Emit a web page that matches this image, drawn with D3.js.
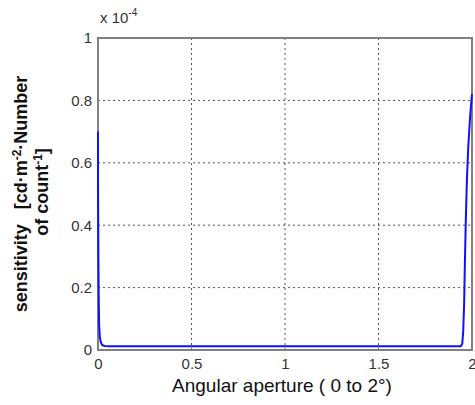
<!DOCTYPE html>
<html>
<head>
<meta charset="utf-8">
<script src="https://cdn.jsdelivr.net/npm/d3@7"></script>
<style>
  body { margin: 0; background: #fff; }
  svg { display: block; font-family: Arial, "Liberation Sans", sans-serif; }
</style>
</head>
<body>
<div id="chart"></div>
<script>
// sensitivity curve (units of 1e-4)
const aperture = [0, 0.0, 0.002, 0.004, 0.006, 0.01, 0.015, 0.022, 0.035, 0.06, 0.5, 1.0, 1.5, 1.94, 1.948, 1.953, 1.958, 1.962, 1.967, 1.973, 1.98, 1.99, 1.997, 2.0];
const sensitivity = [0.70, 0.55, 0.30, 0.16, 0.08, 0.04, 0.025, 0.016, 0.013, 0.012, 0.012, 0.012, 0.012, 0.012, 0.02, 0.06, 0.15, 0.28, 0.42, 0.55, 0.65, 0.75, 0.80, 0.82];
const xTicks = [0, 0.5, 1, 1.5, 2];
const yTicks = [0, 0.2, 0.4, 0.6, 0.8, 1];

const width = 475, height = 405;
const margin = { top: 38, right: 3, bottom: 55, left: 98 };
const innerW = width - margin.left - margin.right;
const innerH = height - margin.top - margin.bottom;

const svg = d3.select('#chart').append('svg')
  .attr('width', width)
  .attr('height', height);

const g = svg.append('g')
  .attr('transform', `translate(${margin.left},${margin.top})`);

const x = d3.scaleLinear().domain([0, 2]).range([0, innerW]);
const y = d3.scaleLinear().domain([0, 1]).range([innerH, 0]);

// dotted grid
g.append('g')
  .selectAll('line')
  .data(xTicks.slice(1, -1))
  .join('line')
  .attr('x1', d => x(d)).attr('x2', d => x(d))
  .attr('y1', 0).attr('y2', innerH)
  .attr('stroke', '#555')
  .attr('stroke-dasharray', '2,3');

g.append('g')
  .selectAll('line')
  .data(yTicks.slice(1, -1))
  .join('line')
  .attr('y1', d => y(d)).attr('y2', d => y(d))
  .attr('x1', 0).attr('x2', innerW)
  .attr('stroke', '#555')
  .attr('stroke-dasharray', '2,3');

// axes box
g.append('rect')
  .attr('width', innerW)
  .attr('height', innerH)
  .attr('fill', 'none')
  .attr('stroke', '#808080')
  .attr('stroke-width', 2);

// data line, drawn over the box so the edges stay visible
const line = d3.line()
  .x((d, i) => x(aperture[i]))
  .y(d => y(d));

g.append('path')
  .datum(sensitivity)
  .attr('fill', 'none')
  .attr('stroke', '#1010ff')
  .attr('stroke-width', 2)
  .attr('d', line);

const xAxis = g.append('g')
  .attr('transform', `translate(0,${innerH})`)
  .call(d3.axisBottom(x).tickValues(xTicks).tickSize(0).tickPadding(8).tickFormat(d3.format('')));
xAxis.select('.domain').remove();
xAxis.selectAll('text')
  .attr('fill', '#333')
  .attr('font-size', '15px');
// last label sits at the window edge, nudge it inside
xAxis.selectAll('text').filter(d => d === 2).attr('text-anchor', 'end').attr('dx', 4);

const yAxis = g.append('g')
  .call(d3.axisLeft(y).tickValues(yTicks).tickSize(0).tickPadding(6).tickFormat(d3.format('')));
yAxis.select('.domain').remove();
yAxis.selectAll('text')
  .attr('fill', '#333')
  .attr('font-size', '15px');

// exponent label
const expo = svg.append('text')
  .attr('x', margin.left + 2)
  .attr('y', 23)
  .attr('fill', '#333')
  .attr('font-size', '15px');
expo.append('tspan').text('x 10');
expo.append('tspan').attr('dy', -7).attr('font-size', '10px').text('-4');

// x label
svg.append('text')
  .attr('x', 282)
  .attr('y', 392)
  .attr('text-anchor', 'middle')
  .attr('fill', '#111')
  .attr('font-size', '19px')
  .text('Angular aperture ( 0 to 2°)');

// y label, two lines
const yl1 = svg.append('text')
  .attr('transform', 'translate(27,194) rotate(-90)')
  .attr('text-anchor', 'middle')
  .attr('font-weight', 'bold')
  .attr('font-size', '18px')
  .attr('fill', '#111');
yl1.append('tspan').text('sensitivity\u00a0\u00a0 [cd·m');
yl1.append('tspan').attr('dy', -6).attr('font-size', '12px').text('-2');
yl1.append('tspan').attr('dy', 6).text('·Number');

const yl2 = svg.append('text')
  .attr('transform', 'translate(48,192) rotate(-90)')
  .attr('text-anchor', 'middle')
  .attr('font-weight', 'bold')
  .attr('font-size', '18px')
  .attr('fill', '#111');
yl2.append('tspan').text('of count');
yl2.append('tspan').attr('dy', -6).attr('font-size', '12px').text('-1');
yl2.append('tspan').attr('dy', 6).text(']');
</script>
</body>
</html>
